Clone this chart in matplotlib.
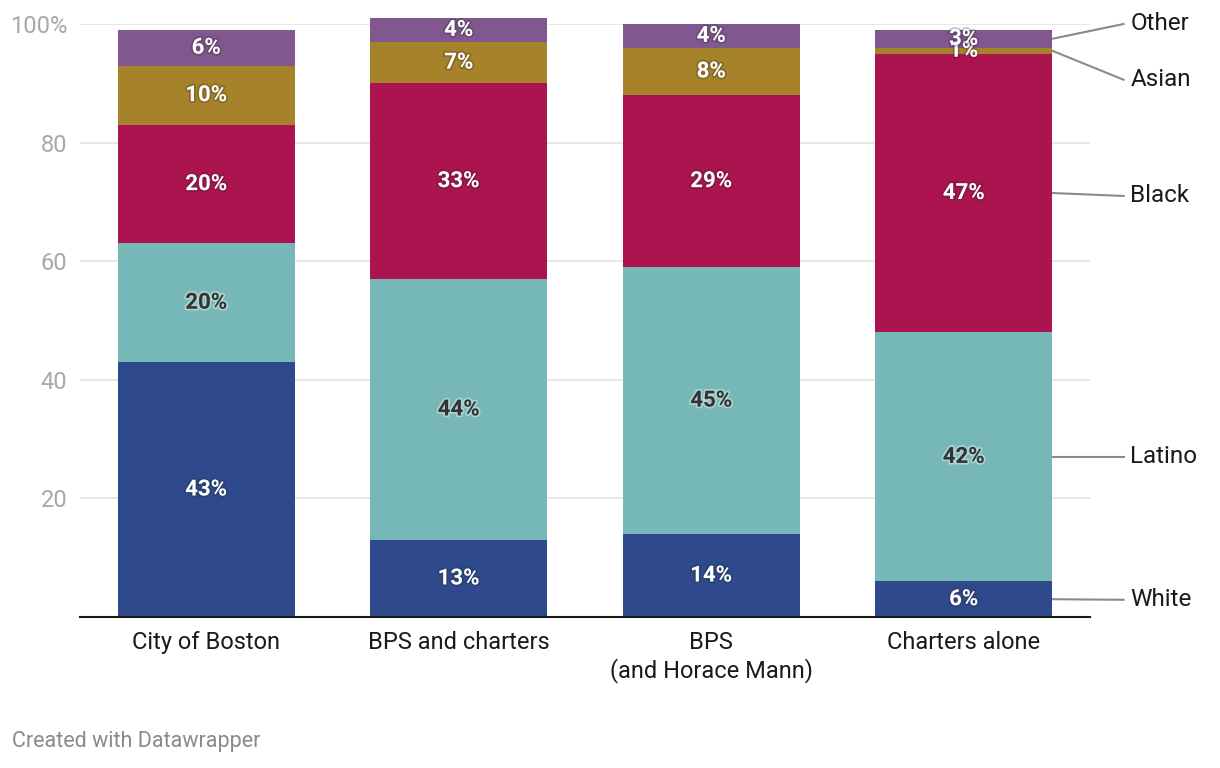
import numpy as np
import matplotlib.pyplot as plt
import matplotlib.patheffects as pe

plt.rcParams['font.family'] = ['Roboto', 'DejaVu Sans']

categories = ["City of Boston", "BPS and charters", "BPS\n(and Horace Mann)", "Charters alone"]
groups = ["White", "Latino", "Black", "Asian", "Other"]
white = [43, 13, 14, 6]
latino = [20, 44, 45, 42]
black = [20, 33, 29, 47]
asian = [10, 7, 8, 1]
other = [6, 4, 4, 3]
label_y = [2.9, 27, 71, 90.6, 100]  # where the right-hand legend labels sit
yticks = [20, 40, 60, 80, 100]
ytick_labels = ["20", "40", "60", "80", "100%"]

colors = ["#2f4a8c", "#76b8b7", "#ab144f", "#a6832a", "#80578e"]
text_dark = [False, True, False, False, False]

fig = plt.figure(figsize=(12.2, 7.68), dpi=100)
ax = fig.add_axes([80 / 1220, 1 - 617 / 768, 1010 / 1220, 593 / 768])

x = np.arange(len(categories))
series = [white, latino, black, asian, other]
bottom = np.zeros(len(categories))
width = 0.70
for vals, color, dark in zip(series, colors, text_dark):
    vals = np.array(vals, dtype=float)
    ax.bar(x, vals, bottom=bottom, width=width, color=color, zorder=2, clip_on=False)
    for xi, b, v in zip(x, bottom, vals):
        if dark:
            t = ax.text(xi, b + v / 2, f"{int(v)}%", ha='center', va='center',
                        color='#333333', fontsize=16, fontweight='bold', zorder=3)
            t.set_path_effects([pe.withStroke(linewidth=2.5, foreground='#ffffff', alpha=0.4)])
        else:
            t = ax.text(xi, b + v / 2, f"{int(v)}%", ha='center', va='center',
                        color='white', fontsize=16, fontweight='bold', zorder=3)
            t.set_path_effects([pe.withStroke(linewidth=2.5, foreground='#222222', alpha=0.25)])
    bottom += vals

# right-hand labels for the last bar
last = len(categories) - 1
cum = 0
edge = x[last] + width / 2
for vals, name, ly in zip(series, groups, label_y):
    mid = cum + vals[last] / 2
    cum += vals[last]
    ax.plot([edge, 3.633], [mid, ly], color='#8a8a8a', lw=1.5, clip_on=False, zorder=1)
    ax.text(3.66, ly, name, ha='left', va='center', fontsize=17.5, color='#1a1a1a')

ax.set_xlim(-0.5, 3.5)
ax.set_ylim(0, 100)
ax.set_yticks(yticks)
ax.set_yticklabels(ytick_labels)
ax.yaxis.grid(True, color='#e3e3e3', lw=1.2, zorder=0)
ax.set_axisbelow(True)
ax.tick_params(axis='y', length=0, labelsize=17, labelcolor='#a8a8a8', pad=9)
ax.set_xticks(x)
ax.set_xticklabels(categories, fontsize=17, color='#1a1a1a', linespacing=1.2)
ax.tick_params(axis='x', length=0, pad=10)
for s in ['top', 'right', 'left']:
    ax.spines[s].set_visible(False)
ax.spines['bottom'].set_color('#1a1a1a')
ax.spines['bottom'].set_linewidth(1.5)
ax.spines['bottom'].set_zorder(4)

fig.text(12 / 1220, 1 - 742 / 768, "Created with Datawrapper", fontsize=15.5,
         color='#8a8a8a', ha='left', va='center')

fig.savefig("out.png", dpi=100)
